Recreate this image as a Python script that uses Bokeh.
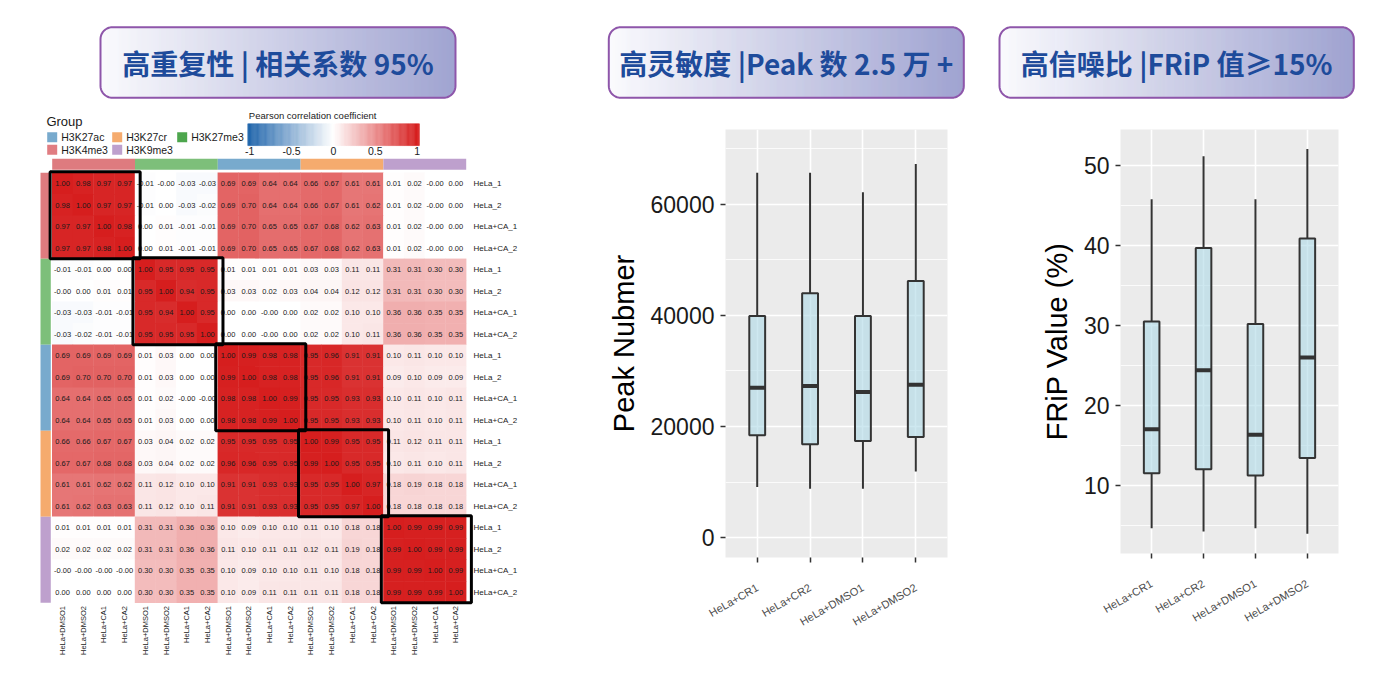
import math
from bokeh.plotting import figure
from bokeh.layouts import row, column
from bokeh.models import Range1d, FixedTicker
from bokeh.embed import file_html
from bokeh.resources import INLINE
from bokeh.core.properties import value

# ---------------- data ----------------
titles = ["高重复性 | 相关系数 95%", "高灵敏度 |Peak 数 2.5 万 +", "高信噪比 |FRiP 值≥15%"]

groups = ["H3K4me3", "H3K27me3", "H3K27ac", "H3K27cr", "H3K9me3"]
group_bar_colors = ["#DE7B7F", "#7DBF7A", "#78AACD", "#F5AB6E", "#BEA0CD"]
legend_groups = ["H3K27ac", "H3K27cr", "H3K27me3", "H3K4me3", "H3K9me3"]
legend_colors = ["#78AACD", "#F5AB6E", "#4DA64D", "#E07D82", "#BEA0CD"]
col_samples = ["HeLa+DMSO1", "HeLa+DMSO2", "HeLa+CA1", "HeLa+CA2"]
row_samples = ["HeLa_1", "HeLa_2", "HeLa+CA_1", "HeLa+CA_2"]
cbar_ticks = [-1, -0.5, 0, 0.5, 1]
cbar_labels = ["-1", "-0.5", "0", "0.5", "1"]

corr = [
    [1.00, 0.98, 0.97, 0.97, -0.01, -0.0, -0.03, -0.03, 0.69, 0.69, 0.64, 0.64, 0.66, 0.67, 0.61, 0.61, 0.01, 0.02, -0.0, 0.00],
    [0.98, 1.00, 0.97, 0.97, -0.01, 0.00, -0.03, -0.02, 0.69, 0.70, 0.64, 0.64, 0.66, 0.67, 0.61, 0.62, 0.01, 0.02, -0.0, 0.00],
    [0.97, 0.97, 1.00, 0.98, 0.00, 0.01, -0.01, -0.01, 0.69, 0.70, 0.65, 0.65, 0.67, 0.68, 0.62, 0.63, 0.01, 0.02, -0.0, 0.00],
    [0.97, 0.97, 0.98, 1.00, 0.00, 0.01, -0.01, -0.01, 0.69, 0.70, 0.65, 0.65, 0.67, 0.68, 0.62, 0.63, 0.01, 0.02, -0.0, 0.00],
    [-0.01, -0.01, 0.00, 0.00, 1.00, 0.95, 0.95, 0.95, 0.01, 0.01, 0.01, 0.01, 0.03, 0.03, 0.11, 0.11, 0.31, 0.31, 0.30, 0.30],
    [-0.0, 0.00, 0.01, 0.01, 0.95, 1.00, 0.94, 0.95, 0.03, 0.03, 0.02, 0.03, 0.04, 0.04, 0.12, 0.12, 0.31, 0.31, 0.30, 0.30],
    [-0.03, -0.03, -0.01, -0.01, 0.95, 0.94, 1.00, 0.95, 0.00, 0.00, -0.0, 0.00, 0.02, 0.02, 0.10, 0.10, 0.36, 0.36, 0.35, 0.35],
    [-0.03, -0.02, -0.01, -0.01, 0.95, 0.95, 0.95, 1.00, 0.00, 0.00, -0.0, 0.00, 0.02, 0.02, 0.10, 0.11, 0.36, 0.36, 0.35, 0.35],
    [0.69, 0.69, 0.69, 0.69, 0.01, 0.03, 0.00, 0.00, 1.00, 0.99, 0.98, 0.98, 0.95, 0.96, 0.91, 0.91, 0.10, 0.11, 0.10, 0.10],
    [0.69, 0.70, 0.70, 0.70, 0.01, 0.03, 0.00, 0.00, 0.99, 1.00, 0.98, 0.98, 0.95, 0.96, 0.91, 0.91, 0.09, 0.10, 0.09, 0.09],
    [0.64, 0.64, 0.65, 0.65, 0.01, 0.02, -0.0, -0.0, 0.98, 0.98, 1.00, 0.99, 0.95, 0.95, 0.93, 0.93, 0.10, 0.11, 0.10, 0.11],
    [0.64, 0.64, 0.65, 0.65, 0.01, 0.03, 0.00, 0.00, 0.98, 0.98, 0.99, 1.00, 0.95, 0.95, 0.93, 0.93, 0.10, 0.11, 0.10, 0.11],
    [0.66, 0.66, 0.67, 0.67, 0.03, 0.04, 0.02, 0.02, 0.95, 0.95, 0.95, 0.95, 1.00, 0.99, 0.95, 0.95, 0.11, 0.12, 0.11, 0.11],
    [0.67, 0.67, 0.68, 0.68, 0.03, 0.04, 0.02, 0.02, 0.96, 0.96, 0.95, 0.95, 0.99, 1.00, 0.95, 0.95, 0.10, 0.11, 0.10, 0.11],
    [0.61, 0.61, 0.62, 0.62, 0.11, 0.12, 0.10, 0.10, 0.91, 0.91, 0.93, 0.93, 0.95, 0.95, 1.00, 0.97, 0.18, 0.19, 0.18, 0.18],
    [0.61, 0.62, 0.63, 0.63, 0.11, 0.12, 0.10, 0.11, 0.91, 0.91, 0.93, 0.93, 0.95, 0.95, 0.97, 1.00, 0.18, 0.18, 0.18, 0.18],
    [0.01, 0.01, 0.01, 0.01, 0.31, 0.31, 0.36, 0.36, 0.10, 0.09, 0.10, 0.10, 0.11, 0.10, 0.18, 0.18, 1.00, 0.99, 0.99, 0.99],
    [0.02, 0.02, 0.02, 0.02, 0.31, 0.31, 0.36, 0.36, 0.11, 0.10, 0.11, 0.11, 0.12, 0.11, 0.19, 0.18, 0.99, 1.00, 0.99, 0.99],
    [-0.0, -0.0, -0.0, -0.0, 0.30, 0.30, 0.35, 0.35, 0.10, 0.09, 0.10, 0.10, 0.11, 0.10, 0.18, 0.18, 0.99, 0.99, 1.00, 0.99],
    [0.00, 0.00, 0.00, 0.00, 0.30, 0.30, 0.35, 0.35, 0.10, 0.09, 0.11, 0.11, 0.11, 0.11, 0.18, 0.18, 0.99, 0.99, 0.99, 1.00],
]

box_samples = ["HeLa+CR1", "HeLa+CR2", "HeLa+DMSO1", "HeLa+DMSO2"]
peak_low = [9100, 8800, 8800, 11900]
peak_q1 = [18400, 16800, 17400, 18100]
peak_med = [27000, 27300, 26200, 27500]
peak_q3 = [39900, 44000, 39900, 46200]
peak_high = [65700, 65700, 62200, 67300]
peak_ticks = [0, 20000, 40000, 60000]
peak_minor = [10000, 30000, 50000, 70000]

frip_low = [4.6, 4.2, 4.6, 3.9]
frip_q1 = [11.5, 12.0, 11.2, 13.4]
frip_med = [17.0, 24.4, 16.3, 26.0]
frip_q3 = [30.5, 39.7, 30.2, 40.9]
frip_high = [45.8, 51.2, 45.8, 52.1]
frip_ticks = [10, 20, 30, 40, 50]
frip_minor = [5, 15, 25, 35, 45]

FONT = value("Liberation Sans")

# ---------------- helpers ----------------
NEG = (33, 102, 172)
POS = (214, 30, 30)


def corr_color(v):
    v = max(-1.0, min(1.0, v))
    end = POS if v >= 0 else NEG
    t = abs(v)
    r, g, b = [int(round(255 + (e - 255) * t)) for e in end]
    return "#%02x%02x%02x" % (r, g, b)


def rounded_path(x0, x1, y0, y1, r, n=10):
    xs, ys = [], []
    corners = [(x1 - r, y1 - r, 0, 90), (x0 + r, y1 - r, 90, 180),
               (x0 + r, y0 + r, 180, 270), (x1 - r, y0 + r, 270, 360)]
    for cx, cy, a0, a1 in corners:
        for k in range(n + 1):
            a = math.radians(a0 + (a1 - a0) * k / n)
            xs.append(cx + r * math.cos(a))
            ys.append(cy + r * math.sin(a))
    return xs, ys


TOTAL_W = 1385
TITLE_H = 108
MAIN_H = 568

# ---------------- title banners ----------------
tf = figure(width=TOTAL_W, height=TITLE_H, x_range=Range1d(0, TOTAL_W), y_range=Range1d(0, TITLE_H),
            x_axis_type=None, y_axis_type=None, toolbar_location=None,
            output_backend="svg", min_border=0)
tf.outline_line_color = None
tf.grid.visible = False

banner_x = [(100, 455), (608.3, 963.3), (999, 1353.3)]
by0, by1, br = TITLE_H - 97.3, TITLE_H - 26.7, 12.0
c0, c1 = (250, 250, 253), (156, 160, 207)
for (x0, x1), text in zip(banner_x, titles):
    L, R, B, T, C = [], [], [], [], []
    n = int(round(x1 - x0))
    w = (x1 - x0) / n
    for i in range(n):
        a = x0 + i * w
        cx = a + w / 2
        d = min(cx - x0, x1 - cx)
        inset = br - math.sqrt(max(0.0, br * br - (br - d) ** 2)) if d < br else 0.0
        t = (cx - x0) / (x1 - x0)
        col = tuple(int(round(c0[k] + (c1[k] - c0[k]) * t)) for k in range(3))
        L.append(a); R.append(a + w); B.append(by0 + inset); T.append(by1 - inset)
        C.append("#%02x%02x%02x" % col)
    tf.quad(left=L, right=R, bottom=B, top=T, fill_color=C, line_color=C, line_width=0.6)
    xs, ys = rounded_path(x0, x1, by0, by1, br)
    tf.patch(xs, ys, fill_alpha=0, line_color="#8E56AA", line_width=2)
    tf.text(x=[(x0 + x1) / 2], y=[(by0 + by1) / 2], text=[text],
            text_font=value("Noto Sans CJK SC"), text_font_style="bold",
            text_font_size="28px", text_color="#1E4B9B",
            text_align="center", text_baseline="middle")

# ---------------- heatmap ----------------
CW, RH = 20.7, 21.5
HW, HH = 595, MAIN_H
X0P, Y0P = 51.7, 172.3 - TITLE_H
hm = figure(width=HW, height=HH,
            x_range=Range1d(-X0P / CW, (HW - X0P) / CW),
            y_range=Range1d(-(HH - Y0P) / RH, Y0P / RH),
            x_axis_type=None, y_axis_type=None, toolbar_location=None,
            output_backend="svg", min_border=0)
hm.outline_line_color = None
hm.grid.visible = False

n = len(corr)
cx, cy, cc, ct = [], [], [], []
for i in range(n):
    for j in range(n):
        v = corr[i][j]
        cx.append(j + 0.5)
        cy.append(-(i + 0.5))
        cc.append(corr_color(v))
        ct.append(f"{v:.2f}")
hm.rect(x=cx, y=cy, width=1.02, height=1.02, fill_color=cc, line_color=None)
hm.text(x=cx, y=cy, text=ct, text_font=FONT, text_font_size="7.5px",
        text_color="#1a1a1a", text_align="center", text_baseline="middle")

ng = len(groups)
hm.quad(left=[4 * k for k in range(ng)], right=[4 * k + 4 for k in range(ng)],
        bottom=[0.14] * ng, top=[0.65] * ng, fill_color=group_bar_colors, line_color=None)
hm.quad(left=[-0.565] * ng, right=[-0.068] * ng,
        top=[-4 * k for k in range(ng)], bottom=[-(4 * k + 4) for k in range(ng)],
        fill_color=group_bar_colors, line_color=None)

hm.text(x=[20.35] * n, y=[-(i + 0.5) for i in range(n)],
        text=[row_samples[i % 4] for i in range(n)], text_font=FONT,
        text_font_size="8px", text_color="#1a1a1a", text_align="left", text_baseline="middle")
hm.text(x=[j + 0.5 for j in range(n)], y=[-20.15] * n,
        text=[col_samples[j % 4] for j in range(n)], angle=math.pi / 2, text_font=FONT,
        text_font_size="7.5px", text_color="#1a1a1a", text_align="right", text_baseline="middle")

hm.quad(left=[4 * k - 0.1 for k in range(ng)], right=[4 * k + 4.25 for k in range(ng)],
        top=[-4 * k + 0.05 for k in range(ng)], bottom=[-(4 * k + 4) for k in range(ng)],
        fill_alpha=0, line_color="black", line_width=3)

hm.text(x=[-0.28], y=[2.39], text=["Group"], text_font=FONT, text_font_size="13px",
        text_color="#1a1a1a", text_align="left", text_baseline="middle")
lx = [0.0, 3.14, 6.28, 0.0, 3.14]
ly = [1.656, 1.656, 1.656, 1.07, 1.07]
hm.rect(x=lx, y=ly, width=0.483, height=0.465, fill_color=legend_colors, line_color=None)
hm.text(x=[v + 0.435 for v in lx], y=ly, text=legend_groups, text_font=FONT,
        text_font_size="10.5px", text_color="#1a1a1a", text_align="left", text_baseline="middle")

cb_l, cb_r, cv_l, cv_r = 9.447, 17.74, 9.54, 17.63
ns = 150
sw = (cb_r - cb_l) / ns
sl = [cb_l + k * sw for k in range(ns)]
sc = [corr_color(-1 + 2 * ((s + sw / 2) - cv_l) / (cv_r - cv_l)) for s in sl]
hm.quad(left=sl, right=[s + sw for s in sl], bottom=[1.265] * ns, top=[2.279] * ns,
        fill_color=sc, line_color=sc, line_width=0.5)
hm.text(x=[cv_l + (t + 1) / 2 * (cv_r - cv_l) for t in cbar_ticks], y=[1.0] * len(cbar_ticks),
        text=cbar_labels, text_font=FONT, text_font_size="10.5px", text_color="#1a1a1a",
        text_align="center", text_baseline="middle")
hm.text(x=[9.5], y=[2.67], text=["Pearson correlation coefficient"], text_font=FONT,
        text_font_size="9.5px", text_color="#1a1a1a", text_align="left", text_baseline="middle")


# ---------------- box plots ----------------
def box_fig(width, height, left, right, top, bottom, yr, yticks, yminor, ylabel,
            low, q1, med, q3, high):
    f = figure(width=width, height=height, x_range=Range1d(0.4, 4.6), y_range=Range1d(*yr),
               toolbar_location=None, output_backend="svg",
               min_border_left=left, min_border_right=right,
               min_border_top=top, min_border_bottom=bottom)
    f.background_fill_color = "#EBEBEB"
    f.border_fill_color = "white"
    f.outline_line_color = None
    xs = list(range(1, len(low) + 1))
    f.xaxis.ticker = FixedTicker(ticks=xs)
    f.xaxis.major_label_overrides = {x: s for x, s in zip(xs, box_samples)}
    f.yaxis.ticker = FixedTicker(ticks=yticks, minor_ticks=yminor)
    f.yaxis.major_label_overrides = {t: str(t) for t in yticks}
    f.xgrid.grid_line_color = "white"
    f.xgrid.grid_line_width = 1.6
    f.ygrid.grid_line_color = "white"
    f.ygrid.grid_line_width = 1.6
    f.ygrid.minor_grid_line_color = "white"
    f.ygrid.minor_grid_line_width = 0.8
    for ax in (f.xaxis, f.yaxis):
        ax.axis_line_color = None
        ax.major_tick_line_color = "#333333"
        ax.major_tick_line_width = 1.5
        ax.major_tick_in = 0
        ax.major_tick_out = 5
        ax.minor_tick_line_color = None
    f.xaxis.major_label_orientation = math.pi / 6
    f.xaxis.major_label_text_font = "Liberation Sans"
    f.xaxis.major_label_text_font_size = "11px"
    f.xaxis.major_label_text_color = "#4D4D4D"
    f.xaxis.major_label_standoff = 24
    f.yaxis.major_label_text_font = "Liberation Sans"
    f.yaxis.major_label_text_font_size = "23px"
    f.yaxis.major_label_text_color = "#1a1a1a"
    f.yaxis.major_label_standoff = 6
    f.yaxis.axis_label = ylabel
    f.yaxis.axis_label_text_font = "Liberation Sans"
    f.yaxis.axis_label_text_font_size = "29px"
    f.yaxis.axis_label_text_font_style = "normal"
    f.yaxis.axis_label_text_color = "#000000"
    f.yaxis.axis_label_standoff = 8
    f.segment(x0=xs, y0=low, x1=xs, y1=q1, line_color="#333333", line_width=2)
    f.segment(x0=xs, y0=q3, x1=xs, y1=high, line_color="#333333", line_width=2)
    f.vbar(x=xs, width=0.3, bottom=q1, top=q3, fill_color="#ADD8E6", fill_alpha=0.6,
           line_color="#333333", line_width=2)
    f.segment(x0=[x - 0.15 for x in xs], y0=med, x1=[x + 0.15 for x in xs], y1=med,
              line_color="#333333", line_width=4)
    return f


pB = box_fig(390, MAIN_H, 130, 38, int(round(129.3 - TITLE_H)),
             int(round(MAIN_H - (557.3 - TITLE_H))), (-3600, 73500), peak_ticks, peak_minor,
             "Peak Nubmer", peak_low, peak_q1, peak_med, peak_q3, peak_high)
pC = box_fig(400, MAIN_H, 135, 47, int(round(129.3 - TITLE_H)),
             int(round(MAIN_H - (553.3 - TITLE_H))), (1.44, 54.55), frip_ticks, frip_minor,
             "FRiP Value (%)", frip_low, frip_q1, frip_med, frip_q3, frip_high)

# each plot wrapped in its own column so that frames are not aligned across the row
p = column(tf, row(column(hm), column(pB), column(pC), spacing=0), spacing=0)

open("out.html", "w").write(file_html(p, INLINE))
